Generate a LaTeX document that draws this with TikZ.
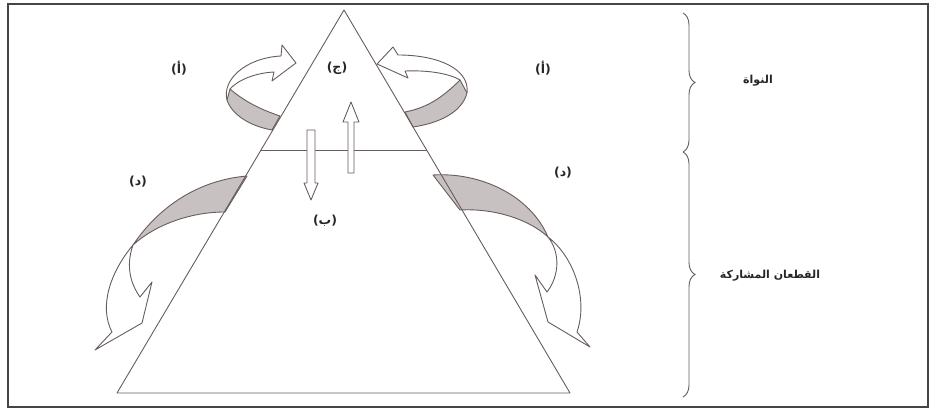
\documentclass[tikz,border=0pt]{standalone}
\usepackage{fontspec}
\usepackage{tikz}
\usetikzlibrary{calc, decorations.pathreplacing}
\TeXXeTstate=1
\newfontfamily\arabicfont[Script=Arabic]{DejaVu Sans}
\definecolor{edgecol}{RGB}{105,92,92}
\definecolor{bandcol}{RGB}{200,193,193}
\definecolor{framecol}{RGB}{70,68,68}

\begin{document}
\begin{tikzpicture}[x=1pt, y=-1pt,
  letter/.style={font=\arabicfont\bfseries\fontsize{12.5}{14}\selectfont,
                 text=black!85, inner sep=1pt},
  part/.style={font=\arabicfont\bfseries\fontsize{11}{13}\selectfont,
               text=black!85, inner sep=1pt},
  outline/.style={draw=edgecol, line width=0.9pt, line join=round},
  band/.style={outline, fill=bandcol},
  hollow/.style={outline, fill=white},
  bracket/.style={draw=edgecol, line width=0.9pt, decorate,
                  decoration={brace, amplitude=12pt}}
]
  \useasboundingbox (0,0) rectangle (934,411);
  \draw[framecol, line width=2.4pt] (8,4) rectangle (928,407);

  \coordinate (apex) at (344,10);
  \coordinate (bl) at (117,393);
  \coordinate (br) at (570,393);
  \coordinate (hl) at ($(apex)!0.3655!(bl)$);
  \coordinate (hr) at ($(apex)!0.3655!(br)$);

  % ring arrows round the core
  \draw[hollow] (227,100) .. controls (222,80) and (245,58) .. (281,56)
    -- (282,45) -- (296,63) -- (272,81) -- (274,72)
    .. controls (255,73) and (238,80) .. (230,89);
  \draw[band] (230,89) .. controls (245,102) and (262,110) .. (280,116)
    -- (272,130) .. controls (250,126) and (232,115) .. (227,100) -- cycle;

  \draw[hollow] (467,93) .. controls (470,70) and (440,55) .. (398,55)
    -- (393,47) -- (377,64) -- (408,78) -- (405,71)
    .. controls (430,70) and (450,74) .. (460,80);
  \draw[band] (460,80) .. controls (440,100) and (425,108) .. (405,112)
    -- (413,127) .. controls (440,123) and (462,112) .. (467,93) -- cycle;

  % arrows leaving the herd
  \draw[hollow] (133,245) .. controls (112,270) and (98,305) .. (112,332)
    -- (95,350) -- (142,323) -- (152,282) -- (140,297)
    .. controls (128,280) and (127,262) .. (133,245);
  \draw[band] (133,245) .. controls (160,205) and (200,180) .. (247,176)
    -- (225,212) .. controls (190,212) and (155,225) .. (133,245) -- cycle;

  \draw[hollow] (548,237) .. controls (575,258) and (588,300) .. (577,332)
    -- (590,347) -- (548,322) -- (535,275) -- (547,292)
    .. controls (560,275) and (560,252) .. (548,237);
  \draw[band] (433,175) .. controls (480,172) and (530,195) .. (548,237)
    .. controls (530,220) and (495,208) .. (460,210) -- cycle;

  \draw[outline] (apex) -- (bl) -- (br) -- cycle;
  \draw[outline] (hl) -- (hr);

  % exchange between core and herd
  \draw[hollow] (348,173) -- (348,122) -- (343,122) -- (351,102)
    -- (359,122) -- (354,122) -- (354,173) -- cycle;
  \draw[hollow] (307,130) -- (307,183) -- (304,183) -- (311,200)
    -- (318,183) -- (315,183) -- (315,130) -- cycle;

  \node[letter] (a1) at (179,68) {\beginR(أ)\endR};
  \node[letter] (a2) at (543,68) {\beginR(أ)\endR};
  \node[letter] (c)  at (337,68) {\beginR(ج)\endR};
  \node[letter] (d1) at (138,182) {\beginR(د)\endR};
  \node[letter] (d2) at (563,173) {\beginR(د)\endR};
  \node[letter] (b)  at (325,221) {\beginR(ب)\endR};

  \draw[bracket] (683,13) -- (683,152);
  \draw[bracket] (683,152) -- (683,397);
  \node[part] (core) at (758,81) {\beginR النواة\endR};
  \node[part] (herd) at (770,276) {\beginR القطعان المشاركة\endR};
\end{tikzpicture}
\end{document}
